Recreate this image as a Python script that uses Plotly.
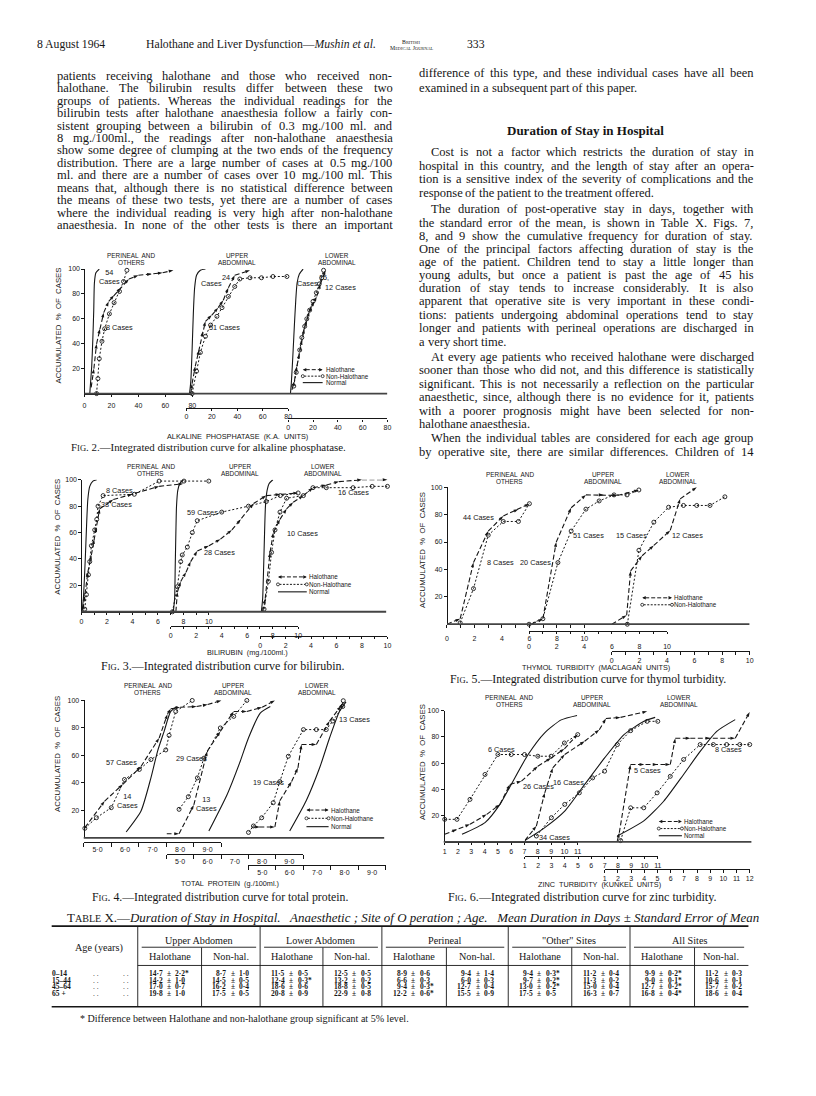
import plotly.graph_objects as go

# ---------------------------------------------------------------------------
# values: accumulated % of cases against the test value
# ---------------------------------------------------------------------------

# Fig. 2  alkaline phosphatase (K.A. units)
alk_per_norm_x = [4, 4.2, 5.4, 6.2, 6.9, 7.4, 8.5, 11]
alk_per_norm_y = [0, 3.5, 22, 43, 67, 89, 97, 100]
alk_per_hal_x = [5, 7, 9, 11.5, 14.3, 18, 22, 27, 33, 40, 50, 58, 66]
alk_per_hal_y = [5, 20, 40, 52, 65, 74, 79, 85, 92, 95, 96, 97, 99]
alk_per_non_x = [9, 10, 11, 13, 15, 18.5, 22, 26, 29, 31.5]
alk_per_non_y = [0, 12, 28, 42, 52, 64, 73, 82, 90, 99]
alk_up_norm_x = [2.5, 3.5, 4.5, 5.5, 6.5, 8, 11, 15]
alk_up_norm_y = [0, 10, 35, 65, 85, 95, 99, 100]
alk_up_hal_x = [3.5, 4.5, 7, 10, 13, 15, 20, 25, 29, 33, 38, 50]
alk_up_hal_y = [0, 8, 22, 35, 50, 58, 63, 69, 75, 85, 95, 99]
alk_up_non_x = [4.5, 8, 11, 15, 19, 24, 28, 33, 38, 42, 50, 59, 68, 79]
alk_up_non_y = [0, 18, 33, 46, 55, 62, 69, 78, 86, 92, 93, 93, 94, 94]
alk_lo_norm_x = [1.8, 2.5, 4, 5, 6.1, 7.2, 9, 12]
alk_lo_norm_y = [0, 8, 35, 55, 75, 89, 96, 100]
alk_lo_hal_x = [3, 5, 7, 9, 11, 13, 15, 17, 19, 21, 23, 26, 30]
alk_lo_hal_y = [3, 10, 22, 32, 43, 52, 59, 66, 70, 74, 78, 88, 99]
alk_lo_non_x = [4.5, 6.5, 9.3, 11, 13.3, 15, 17.3, 20, 22.7, 25, 27, 28.5]
alk_lo_non_y = [6, 17, 35, 45, 54, 60, 67, 74, 81, 88, 93, 99]

# Fig. 3  bilirubin (mg./100 ml.)
bil_per_norm_x = [0.05, 0.15, 0.3, 0.4, 0.5, 0.65, 0.9, 1.2]
bil_per_norm_y = [0, 10, 40, 65, 85, 95, 99, 100]
bil_per_hal_x = [0.13, 0.26, 0.5, 0.78, 1.0, 1.17, 1.43, 2.5, 4.0, 6.1, 8.0]
bil_per_hal_y = [2, 12, 30, 43, 55, 64, 78, 85, 89, 95, 97]
bil_per_non_x = [0.26, 0.39, 0.55, 0.65, 0.78, 1.04, 1.2, 1.3, 1.7, 4.15, 6.1, 8.05, 10]
bil_per_non_y = [2, 13, 28, 38, 50, 62, 70, 80, 88, 89, 99, 99, 99]
bil_up_norm_x = [0.2, 0.3, 0.35, 0.4, 0.45, 0.55, 0.7, 1.0]
bil_up_norm_y = [0, 10, 35, 60, 80, 92, 97, 100]
bil_up_hal_x = [0.4, 0.52, 0.78, 1.2, 1.56, 2.08, 3.0, 3.9, 4.8, 5.5, 6.5, 7.5, 8.6, 10]
bil_up_hal_y = [0, 15, 23, 30, 38, 46, 50, 55, 62, 70, 82, 88, 89, 90]
bil_up_non_x = [0.13, 0.52, 0.78, 0.9, 1.3, 1.69, 2.08, 4.0, 6.1, 7.5, 8.6, 10]
bil_up_non_y = [0, 19, 38, 43, 49, 60, 69, 75.5, 80, 83.5, 88, 90]
bil_lo_norm_x = [0.1, 0.2, 0.28, 0.35, 0.42, 0.55, 0.7, 1.0]
bil_lo_norm_y = [0, 10, 35, 60, 80, 92, 97, 100]
bil_lo_hal_x = [0.2, 0.4, 0.78, 1.04, 1.56, 2.08, 2.6, 3.4, 4.15, 5.2, 6.2, 8.0, 10]
bil_lo_hal_y = [0, 10, 45, 60, 70, 78, 83, 88, 94, 96, 98.6, 100, 100]
bil_lo_non_x = [0.31, 0.65, 0.9, 1.17, 1.56, 2.08, 3.4, 4.15, 5.2, 7.3, 8.8, 10]
bil_lo_non_y = [2, 23, 45, 62, 75.5, 86, 88, 94, 94, 94, 95, 95]

# Fig. 4  total protein (g./100 ml.)
tp_per_norm_x = [6.04, 6.58, 6.94, 7.18, 7.42, 7.66, 7.9]
tp_per_norm_y = [4.3, 19.6, 43.7, 63, 77.5, 92, 95.6]
tp_per_hal_x = [4.54, 5.26, 5.92, 6.58, 7.24, 7.54, 7.66, 8.0, 8.6, 9.0, 9.5]
tp_per_hal_y = [7.5, 26.8, 39, 52, 72.7, 90, 94, 95, 95.6, 97, 100]
tp_per_non_x = [4.54, 4.96, 5.5, 5.98, 6.52, 6.94, 7.48, 7.6, 7.84, 8.44]
tp_per_non_y = [7, 14.7, 22, 42.5, 49.8, 57, 64, 74.6, 92, 100]
tp_up_norm_x = [6.05, 6.72, 7.2, 7.5, 7.93, 8.3]
tp_up_norm_y = [5, 31.6, 55.8, 72.7, 90.8, 95.6]
tp_up_hal_x = [4.5, 4.96, 5.5, 5.99, 6.47, 6.96, 7.44, 8.0, 8.47]
tp_up_hal_y = [3, 3, 24, 63, 77.5, 92, 92, 95, 100]
tp_up_non_x = [4.96, 5.3, 5.63, 5.87, 6.47, 6.96, 7.44]
tp_up_non_y = [20.8, 30, 43.7, 58, 80, 88.4, 100]
tp_lo_norm_x = [6.0, 6.6, 7.09, 7.45, 7.81, 8.05]
tp_lo_norm_y = [5, 27, 51, 72.7, 92, 99]
tp_lo_hal_x = [4.62, 4.92, 5.46, 5.64, 6.07, 6.3, 6.43, 6.97, 7.45, 7.87, 7.93]
tp_lo_hal_y = [8, 8, 8, 27, 41, 51, 68, 68, 85, 96, 98]
tp_lo_non_x = [4.5, 4.68, 4.98, 5.4, 5.64, 5.95, 6.5, 6.97, 7.33, 7.57, 7.93, 7.95]
tp_lo_non_y = [4, 8.7, 14.7, 25.6, 41, 59.4, 78.8, 78.8, 78.8, 85, 95.6, 99.8]

# Fig. 5  thymol turbidity (Maclagan units)
thy_per_hal_x = [0, 0.96, 1.93, 3.0, 4.1, 5.2, 6.0]
thy_per_hal_y = [0, 4, 45, 68, 79, 84, 88]
thy_per_non_x = [0.96, 1.93, 3.0, 4.1, 5.2, 6.0]
thy_per_non_y = [1, 26, 65, 75, 75, 88]
thy_up_hal_x = [0.17, 1.0, 1.97, 3.05, 4.12, 5.4, 6.4, 7.96]
thy_up_hal_y = [0, 4, 60, 85, 94.4, 94.4, 94, 98]
thy_up_non_x = [0, 1.0, 2.09, 3.05, 4.12, 5.08, 6.16, 7.1, 7.96]
thy_up_non_y = [0, 4, 45, 68, 84, 90, 94.4, 94.4, 98]
thy_lo_hal_x = [0, 1.08, 1.37, 2.2, 3.05, 4.24, 4.96, 6.16]
thy_lo_hal_y = [0, 6.5, 39, 50, 57.5, 68.5, 91.5, 100]
thy_lo_non_x = [1.13, 1.97, 3.05, 4.12, 5.2, 6.16, 7.12, 8.2]
thy_lo_non_y = [0, 54, 74.5, 85.4, 86.7, 86.7, 86.7, 93]

# Fig. 6  zinc turbidity (Kunkel units)
zn_per_norm_x = [2.3, 4.03, 5.15, 6.0, 7.27, 8.5, 9.76, 10.95]
zn_per_norm_y = [5.8, 14.7, 28.6, 43.8, 66.6, 83, 93, 96.4]
zn_per_hal_x = [1, 1.92, 2.9, 4.16, 5.15, 5.9, 6.77, 8.0, 9.0, 10.0, 11.0]
zn_per_hal_y = [5.8, 9.6, 13.4, 21, 28.6, 43.8, 46.3, 57.7, 64, 71, 82]
zn_per_non_x = [1, 1.92, 2.9, 4.03, 5.0, 6.0, 7.0, 8.0, 9.0, 10.0, 11.0]
zn_per_non_y = [17.2, 17.2, 32.4, 51.4, 66.6, 66.6, 66.6, 65.3, 65.3, 75.4, 81.8]
zn_up_norm_x = [1.0, 2.5, 4.0, 5.5, 7.0, 8.46, 9.96, 10.8]
zn_up_norm_y = [1, 10.9, 23.5, 43.8, 64, 81.8, 91.9, 94.9]
zn_up_hal_x = [1.0, 1.87, 2.5, 3.1, 4.0, 5.5, 6.6, 7.1, 8.2, 10.2]
zn_up_hal_y = [1, 12.1, 37.4, 56.4, 66.6, 76.7, 85.5, 94, 94.9, 99.5]
zn_up_non_x = [1.87, 3.0, 4.0, 5.1, 6.1, 7.0, 7.96, 8.96, 10.2, 11.0]
zn_up_non_y = [4.5, 18.5, 28.6, 37.4, 48.8, 53.9, 74.2, 84.8, 91.9, 91.9]
zn_lo_norm_x = [1.95, 3.96, 5.47, 6.98, 8.24, 9.5, 10.9]
zn_lo_norm_y = [4.5, 16, 31, 51.4, 69, 84.3, 93.2]
zn_lo_hal_x = [1.95, 2.1, 2.95, 4.0, 5.0, 5.97, 6.35, 7.5, 9.0, 10.9, 12.0]
zn_lo_hal_y = [0.8, 7, 59, 59, 59, 59, 79, 79, 79, 79, 99]
zn_lo_non_x = [2.2, 2.96, 3.96, 4.97, 5.97, 6.98, 8.24, 9.24, 10.25, 11.25, 12.0]
zn_lo_non_y = [1, 26, 26, 37.4, 50, 62.8, 74.2, 74.2, 74.2, 74.2, 74.2]

# Table X  mean duration of stay in days, standard error, * = significant
age_groups = ["0–14", "15–44", "45–64", "65 +"]
site_names = ["Upper Abdomen", "Lower Abdomen", "Perineal", "\"Other\" Sites", "All Sites"]
upper_hal_mean = [14.7, 14.2, 17.0, 19.8]
upper_hal_se = [2.2, 1.0, 0.7, 1.0]
upper_hal_sig = [1, 0, 0, 0]
upper_non_mean = [8.7, 14.5, 16.2, 17.5]
upper_non_se = [1.0, 0.5, 0.4, 0.5]
lower_hal_mean = [11.5, 12.4, 18.6, 20.8]
lower_hal_se = [0.5, 0.3, 0.6, 0.9]
lower_hal_sig = [0, 1, 0, 0]
lower_non_mean = [12.5, 13.2, 18.8, 22.9]
lower_non_se = [0.5, 0.2, 0.5, 0.8]
perineal_hal_mean = [8.9, 6.6, 9.4, 12.2]
perineal_hal_se = [0.6, 0.3, 0.3, 0.6]
perineal_hal_sig = [0, 0, 1, 1]
perineal_non_mean = [9.4, 6.0, 12.7, 15.5]
perineal_non_se = [1.4, 0.3, 0.4, 0.9]
other_hal_mean = [9.4, 9.7, 13.0, 17.5]
other_hal_se = [0.3, 0.2, 0.2, 0.5]
other_hal_sig = [1, 1, 1, 0]
other_non_mean = [11.2, 11.3, 15.0, 16.3]
other_non_se = [0.4, 0.2, 0.4, 0.7]
all_hal_mean = [9.9, 9.0, 12.7, 16.8]
all_hal_se = [0.2, 0.1, 0.2, 0.4]
all_hal_sig = [1, 1, 1, 1]
all_non_mean = [11.2, 10.6, 15.7, 18.6]
all_non_se = [0.3, 0.1, 0.2, 0.4]

# ---------------------------------------------------------------------------
# page text
# ---------------------------------------------------------------------------
LEFT_TEXT = [
    "patients receiving halothane and those who received non-",
    "halothane.  The bilirubin results differ between these two",
    "groups of patients.  Whereas the individual readings for the",
    "bilirubin tests after halothane anaesthesia follow a fairly con-",
    "sistent grouping between a bilirubin of 0.3 mg./100 ml. and",
    "8 mg./100ml., the readings after non-halothane anaesthesia",
    "show some degree of clumping at the two ends of the frequency",
    "distribution.  There are a large number of cases at 0.5 mg./100",
    "ml. and there are a number of cases over 10 mg./100 ml.  This",
    "means that, although there is no statistical difference between",
    "the means of these two tests, yet there are a number of cases",
    "where the individual reading is very high after non-halothane",
    "anaesthesia.  In none of the other tests is there an important",
]
# (text, y, indented, justified)
RIGHT_TEXT = [
    ("difference of this type, and these individual cases have all been", 69, 0, 1),
    ("examined in a subsequent part of this paper.", 84, 0, 0),
    ("Cost is not a factor which restricts the duration of stay in", 149, 1, 1),
    ("hospital in this country, and the length of stay after an opera-", 162.5, 0, 1),
    ("tion is a sensitive index of the severity of complications and the", 176, 0, 1),
    ("response of the patient to the treatment offered.", 189.5, 0, 0),
    ("The duration of post-operative stay in days, together with", 206, 1, 1),
    ("the standard error of the mean, is shown in Table X.  Figs. 7,", 219.5, 0, 1),
    ("8, and 9 show the cumulative frequency for duration of stay.", 232.5, 0, 1),
    ("One of the principal factors affecting duration of stay is the", 245.5, 0, 1),
    ("age of the patient.  Children tend to stay a little longer than", 258.5, 0, 1),
    ("young adults, but once a patient is past the age of 45 his", 272, 0, 1),
    ("duration of stay tends to increase considerably.  It is also", 285, 0, 1),
    ("apparent that operative site is very important in these condi-", 298.5, 0, 1),
    ("tions: patients undergoing abdominal operations tend to stay", 312, 0, 1),
    ("longer and patients with perineal operations are discharged in", 325, 0, 1),
    ("a very short time.", 339, 0, 0),
    ("At every age patients who received halothane were discharged", 354, 1, 1),
    ("sooner than those who did not, and this difference is statistically", 367.5, 0, 1),
    ("significant.  This is not necessarily a reflection on the particular", 381, 0, 1),
    ("anaesthetic, since, although there is no evidence for it, patients", 394.5, 0, 1),
    ("with a poorer prognosis might have been selected for non-", 408, 0, 1),
    ("halothane anaesthesia.", 422, 0, 0),
    ("When the individual tables are considered for each age group", 436, 1, 1),
    ("by operative site, there are similar differences.  Children of 14", 450, 0, 1),
]

# the page sits 8 px in from the window's corner (browser body margin)
OFF = 8
FW, FH = 800, 1080
INK = "#161616"
SERIF = "Liberation Serif"
SANS = "Liberation Sans"

# Times / Liberation Serif advance widths (1/1000 em)
TIMES = {" ": 250, "!": 333, "'": 333, "(": 333, ")": 333, "*": 500, ",": 250, "-": 333,
         ".": 250, "/": 278, ":": 278, ";": 278, "%": 833, "—": 1000, "–": 500, "·": 250,
         "±": 564, "\"": 408}
TIMES.update({c: 500 for c in "0123456789"})
TIMES.update(dict(zip("ABCDEFGHIJKLMNOPQRSTUVWXYZ",
                      [722, 667, 667, 722, 611, 556, 722, 722, 333, 389, 722, 611, 889,
                       722, 722, 556, 722, 667, 556, 611, 722, 722, 944, 722, 722, 611])))
TIMES.update(dict(zip("abcdefghijklmnopqrstuvwxyz",
                      [444, 500, 444, 500, 444, 333, 500, 500, 278, 278, 500, 278, 778,
                       500, 500, 500, 500, 333, 389, 278, 500, 500, 722, 500, 500, 444])))


def tw(s):
    return sum(TIMES.get(c, 500) for c in s) / 1000.0


def X(p):
    return (p - OFF) / FW


def Y(p):
    return 1 - (p - OFF) / FH


fig = go.Figure()
annotations, shapes, axes = [], [], {}


def note(x, y, text, size, family=SERIF, xanchor="left", xref="paper", yref="paper", angle=0):
    annotations.append(dict(
        x=X(x) if xref == "paper" else x, y=Y(y) if yref == "paper" else y,
        xref=xref, yref=yref, text=text, showarrow=False, xanchor=xanchor, yanchor="middle",
        textangle=angle, borderpad=0, borderwidth=0,
        font=dict(family=family, size=size, color=INK)))


def rule(x0, y0, x1, y1, width=1.0, dash="solid", color=INK):
    shapes.append(dict(type="line", xref="paper", yref="paper", x0=X(x0), y0=Y(y0),
                       x1=X(x1), y1=Y(y1), line=dict(color=color, width=width, dash=dash)))


def dot(cx, cy, r=1.5):
    shapes.append(dict(type="circle", xref="paper", yref="paper", x0=X(cx - r), x1=X(cx + r),
                       y0=Y(cy + r), y1=Y(cy - r), line=dict(color=INK, width=0.8),
                       fillcolor="white"))


# ---------------------------------------------------------------- body text
def body(lines, x0, width):
    size = 12.5
    for text, y, ind, just in lines:
        if just:
            words = text.split()
            u = sum(tw(w) for w in words)
            size = min(size, (width - 12 * ind) / (u + 0.17 * (len(words) - 1)))
    for text, y, ind, just in lines:
        words = text.split()
        ws = [tw(w) * size for w in words]
        left = x0 + 12 * ind
        gap = (x0 + width - left - sum(ws)) / (len(words) - 1) if just and len(words) > 1 else 0.25 * size
        x = left
        for w, wd in zip(words, ws):
            note(x, y, w, size)
            x += wd + gap


body([(t, 72 + 12.5 * i, 0, 1) for i, t in enumerate(LEFT_TEXT)], 55, 338)
body(RIGHT_TEXT, 420, 337)
note(588, 127, "<b>Duration of Stay in Hospital</b>", 13, xanchor="center")

# running head
note(35, 41, "8 August 1964", 11.7)
note(145, 41, "Halothane and Liver Dysfunction—<i>Mushin et al.</i>", 11.7)
note(468, 41, "333", 11.7)
note(413, 38, "B<span style='font-size:4.4px'>RITISH</span>", 5.8, xanchor="center")
note(413, 44.5, "M<span style='font-size:4.4px'>EDICAL</span> J<span style='font-size:4.4px'>OURNAL</span>",
     5.8, xanchor="center")

# ---------------------------------------------------------------- figures
STYLE = {
    "hal": dict(mode="lines+markers", line=dict(color=INK, width=1.1, dash="5px,2.5px"),
                marker=dict(symbol="arrow", size=5, angleref="previous", color=INK)),
    "non": dict(mode="lines+markers", line=dict(color=INK, width=1.0, dash="2px,2px"),
                marker=dict(symbol="circle-open", size=4, color=INK, line=dict(width=0.9, color=INK))),
    "norm": dict(mode="lines", line=dict(color=INK, width=1.1, shape="spline", smoothing=0.6)),
}
LEG_TEXT = {"hal": "Halothane", "non": "Non-Halothane", "norm": "Normal"}
HEADS = [("PERINEAL  AND", "OTHERS"), ("UPPER", "ABDOMINAL"), ("LOWER", "ABDOMINAL")]
half = [4.5, 5.5, 6.5, 7.5, 8.5, 9.5]


def cap(num, rest):
    return "F<span style='font-size:8.5px'>IG</span>. %d.—%s" % (num, rest)


FIGS = [
    dict(sites=[dict(norm=(alk_per_norm_x, alk_per_norm_y), hal=(alk_per_hal_x, alk_per_hal_y), non=(alk_per_non_x, alk_per_non_y)),
                dict(norm=(alk_up_norm_x, alk_up_norm_y), hal=(alk_up_hal_x, alk_up_hal_y), non=(alk_up_non_x, alk_up_non_y)),
                dict(norm=(alk_lo_norm_x, alk_lo_norm_y), hal=(alk_lo_hal_x, alk_lo_hal_y), non=(alk_lo_non_x, alk_lo_non_y))],
         yx=83, y0=391, y100=266,
         xaxes=[dict(d=(83, 191.7), r=(0, 80), line=391, lab=401, vals=[0, 20, 40, 60, 80]),
                dict(d=(185.7, 288.3), r=(0, 80), line=405, lab=413, vals=[0, 20, 40, 60, 80]),
                dict(d=(288.3, 388.3), r=(0, 80), line=416, lab=423, vals=[0, 20, 40, 60, 80])],
         base=(83, 388), heads=[130, 237, 337], head_y=(252.5, 259.5), ylab=(57, 323),
         xlab=("ALKALINE  PHOSPHATASE  (K.A.  UNITS)", 237, 434),
         cap=(cap(2, "Integrated distribution curve for alkaline phosphatase."), 208.5, 444.3, 267),
         legend=dict(rows=[367, 373.5, 380], x=(303, 323), tx=326),
         labels=[(0, 11, 94, "54<br>Cases", "left"), (0, 16, 53, "8 Cases", "left"),
                 (1, 28, 93.5, "24", "left"), (1, 28, 88, "Cases", "right"),
                 (1, 17.7, 53, "51 Cases", "left"), (2, 24.8, 93, "15,", "left"),
                 (2, 24, 88, "Cases", "right"), (2, 30, 85, "12 Cases", "left")]),
    dict(sites=[dict(norm=(bil_per_norm_x, bil_per_norm_y), hal=(bil_per_hal_x, bil_per_hal_y), non=(bil_per_non_x, bil_per_non_y)),
                dict(norm=(bil_up_norm_x, bil_up_norm_y), hal=(bil_up_hal_x, bil_up_hal_y), non=(bil_up_non_x, bil_up_non_y)),
                dict(norm=(bil_lo_norm_x, bil_lo_norm_y), hal=(bil_lo_hal_x, bil_lo_hal_y), non=(bil_lo_non_x, bil_lo_non_y))],
         yx=80, y0=610, y100=477.5,
         xaxes=[dict(d=(80, 208.3), r=(0, 10), line=610, lab=619, vals=[0, 2, 4, 6, 8, 10], minor=1),
                dict(d=(170, 298.3), r=(0, 10), line=624, lab=630.5, vals=[0, 2, 4, 6, 8, 10], minor=1),
                dict(d=(260, 388.3), r=(0, 10), line=634, lab=641, vals=[0, 2, 4, 6, 8, 10], minor=1)],
         base=(80, 387), heads=[150, 240, 323], head_y=(464, 471), ylab=(55, 535),
         xlab=("BILIRUBIN  (mg./100ml.)", 247, 651),
         cap=(cap(3, "Integrated distribution curve for bilirubin."), 222.5, 664, 238),
         legend=dict(rows=[575, 582.5, 590], x=(278, 307), tx=309),
         labels=[(0, 1.95, 92, "8 Cases", "left"), (0, 1.55, 81, "38 Cases", "left"),
                 (1, 1.3, 75.5, "59 Cases", "left"), (1, 2.6, 45, "28 Cases", "left"),
                 (2, 2.1, 59, "10 Cases", "left"), (2, 6.1, 90, "16 Cases", "left")]),
    dict(sites=[dict(norm=(tp_per_norm_x, tp_per_norm_y), hal=(tp_per_hal_x, tp_per_hal_y), non=(tp_per_non_x, tp_per_non_y)),
                dict(norm=(tp_up_norm_x, tp_up_norm_y), hal=(tp_up_hal_x, tp_up_hal_y), non=(tp_up_non_x, tp_up_non_y)),
                dict(norm=(tp_lo_norm_x, tp_lo_norm_y), hal=(tp_lo_hal_x, tp_lo_hal_y), non=(tp_lo_non_x, tp_lo_non_y))],
         yx=82.3, y0=837, y100=699,
         xaxes=[dict(d=(82.3, 221), r=(4.5, 9.5), line=840.7, lab=847.3, vals=[5, 6, 7, 8, 9], half=True),
                dict(d=(165.7, 303.3), r=(4.5, 9.5), line=852.7, lab=859.3, vals=[5, 6, 7, 8, 9], half=True),
                dict(d=(248.3, 386.7), r=(4.5, 9.5), line=864, lab=871, vals=[5, 6, 7, 8, 9], half=True)],
         base=(82.3, 385), heads=[147, 233, 317], head_y=(684, 691.5), ylab=(56, 753),
         xlab=("TOTAL  PROTEIN  (g./100ml.)", 230, 882.7),
         cap=(cap(4, "Integrated distribution curve for total protein."), 220, 896, 250),
         legend=dict(rows=[809, 817.3, 825.7], x=(306.7, 329), tx=331),
         labels=[(0, 5.32, 54.6, "57 Cases", "left"), (0, 6.1, 26.8, "14<br>Cases", "center"),
                 (1, 4.84, 57.7, "29 Cases", "left"), (1, 5.95, 25, "13<br>Cases", "center"),
                 (2, 4.68, 40.6, "19 Cases", "left"), (2, 7.81, 86, "13 Cases", "left")]),
    dict(sites=[dict(hal=(thy_per_hal_x, thy_per_hal_y), non=(thy_per_non_x, thy_per_non_y)),
                dict(hal=(thy_up_hal_x, thy_up_hal_y), non=(thy_up_non_x, thy_up_non_y)),
                dict(hal=(thy_lo_hal_x, thy_lo_hal_y), non=(thy_lo_non_x, thy_lo_non_y))],
         yx=448.3, y0=622.5, y100=485,
         xaxes=[dict(d=(448.3, 586.7), r=(0, 10), line=622.5, lab=636, vals=[0, 2, 4, 6, 8, 10], minor=1),
                dict(d=(531, 670), r=(0, 10), line=629, lab=643.5, vals=[0, 2, 4, 6, 8, 10], minor=1),
                dict(d=(614.3, 753.3), r=(0, 10), line=649.5, lab=656.5, vals=[0, 2, 4, 6, 8, 10], minor=1)],
         base=(448.3, 753), heads=[511.7, 605.8, 680.8], head_y=(472.5, 479.5), ylab=(423, 548),
         xlab=("THYMOL  TURBIDITY  (MACLAGAN  UNITS)", 598, 666),
         cap=(cap(5, "Integrated distribution curve for thymol turbidity."), 590, 677.7, 270),
         legend=dict(rows=[596, 603], x=(645, 675), tx=677.3),
         labels=[(0, 1.2, 77.6, "44 Cases", "left"), (0, 2.9, 45.4, "8 Cases", "left"),
                 (1, 1.6, 45.4, "20 Cases", "right"), (1, 3.17, 64.8, "51 Cases", "left"),
                 (2, 2.57, 64.8, "15 Cases", "right"), (2, 4.36, 64.8, "12 Cases", "left")]),
    dict(sites=[dict(norm=(zn_per_norm_x, zn_per_norm_y), hal=(zn_per_hal_x, zn_per_hal_y), non=(zn_per_non_x, zn_per_non_y)),
                dict(norm=(zn_up_norm_x, zn_up_norm_y), hal=(zn_up_hal_x, zn_up_hal_y), non=(zn_up_non_x, zn_up_non_y)),
                dict(norm=(zn_lo_norm_x, zn_lo_norm_y), hal=(zn_lo_hal_x, zn_lo_hal_y), non=(zn_lo_non_x, zn_lo_non_y))],
         yx=445, y0=841, y100=709.3,
         xaxes=[dict(d=(446, 580), r=(1, 11), line=841, lab=850, vals=list(range(1, 12))),
                dict(d=(526.7, 660.7), r=(1, 11), line=855, lab=861.7, vals=list(range(1, 12))),
                dict(d=(607.3, 753.3), r=(1, 12), line=868.3, lab=875, vals=list(range(1, 13)))],
         base=(445, 755), heads=[510.8, 594, 681.7], head_y=(696.5, 703.5), ylab=(423, 761),
         xlab=("ZINC  TURBIDITY  (KUNKEL  UNITS)", 601.7, 884),
         cap=(cap(6, "Integrated distribution curve for zinc turbidity."), 585, 896.7, 263),
         legend=dict(rows=[820.5, 827.6, 834.8], x=(661.7, 685), tx=687),
         labels=[(0, 4.28, 70.4, "6 Cases", "left"), (0, 6.9, 42, "26 Cases", "left"),
                 (1, 3.1, 45, "16 Cases", "left"), (1, 2.1, 3.3, "34 Cases", "left"),
                 (2, 3.2, 54.4, "5 Cases", "left"), (2, 9.4, 70.4, "8 Cases", "left")]),
]

TICKFONT = dict(family=SANS, size=7, color=INK)

for k, spec in enumerate(FIGS):
    yname = "y" if k == 0 else "y%d" % (k + 1)
    axes["yaxis" if k == 0 else "yaxis%d" % (k + 1)] = dict(
        domain=[Y(spec["y0"]), Y(spec["y100"])], range=[0, 100], anchor="free",
        position=X(spec["yx"]), showline=True, linecolor=INK, linewidth=1.2,
        ticks="outside", ticklen=3, tickwidth=1, tickcolor=INK, tickmode="array",
        tickvals=[20, 40, 60, 80, 100], tickfont=TICKFONT, showgrid=False, zeroline=False)
    xnames = []
    for j, xa in enumerate(spec["xaxes"]):
        n = 3 * k + j + 1
        xnames.append("x" if n == 1 else "x%d" % n)
        tl = 0 if xa.get("half") else 2.5
        ax = dict(domain=[X(xa["d"][0]), X(xa["d"][1])], range=list(xa["r"]), anchor="free",
                  position=Y(xa["line"]), showline=True, linecolor=INK, linewidth=1.1,
                  ticks="" if xa.get("half") else "outside", ticklen=max(tl, 1), tickwidth=1,
                  tickcolor=INK, tickmode="array", tickvals=xa["vals"],
                  ticktext=[("%d·0" % v) if xa.get("half") else str(v) for v in xa["vals"]],
                  tickfont=TICKFONT, ticklabelstandoff=max(0, round(xa["lab"] - xa["line"] - tl - 6)),
                  showgrid=False, zeroline=False)
        if xa.get("half"):
            ax["minor"] = dict(tickmode="array", tickvals=half, ticks="outside", ticklen=4,
                               tickcolor=INK, tickwidth=1)
        elif xa.get("minor"):
            ax["minor"] = dict(tickmode="linear", tick0=0, dtick=1, ticks="outside", ticklen=2.5,
                               tickcolor=INK, tickwidth=1)
        axes["xaxis" if n == 1 else "xaxis%d" % n] = ax

    for j, site in enumerate(spec["sites"]):
        for kind in ("norm", "non", "hal"):
            if kind not in site:
                continue
            xs, ys = site[kind]
            fig.add_trace(go.Scatter(x=xs, y=ys, xaxis=xnames[j], yaxis=yname, showlegend=False,
                                     cliponaxis=False, hoverinfo="skip", **STYLE[kind]))
        note(spec["heads"][j], spec["head_y"][0], HEADS[j][0], 6.4, SANS, "center")
        note(spec["heads"][j], spec["head_y"][1], HEADS[j][1], 6.4, SANS, "center")

    for j, lx, ly, text, anchor in spec["labels"]:
        note(lx, ly, text, 7.3, SANS, anchor, xref=xnames[j], yref=yname)

    # heavy base line under the three panels
    rule(spec["base"][0], spec["y0"], spec["base"][1], spec["y0"], 1.8, color="#444")
    note(spec["ylab"][0], spec["ylab"][1], "ACCUMULATED  %  OF  CASES", 7.8, SANS, "center", angle=-90)
    note(spec["xlab"][1], spec["xlab"][2], spec["xlab"][0], 7.3, SANS, "center")
    ctext, cx, cy, cw = spec["cap"]
    plain = "FIG. 0.—" + ctext.split(".—", 1)[1]
    note(cx, cy, ctext, cw / tw(plain) * 1.04, SERIF, "center")

    # legend key
    lg = spec["legend"]
    x0, x1 = lg["x"]
    kinds = ["hal", "non", "norm"][:len(lg["rows"])]
    for ly, kind in zip(lg["rows"], kinds):
        if kind == "hal":
            rule(x0 + 3, ly, x1 - 3, ly, 1.0, "4px,2px")
            for tip, back in ((x0, 4), (x1, -4)):
                annotations.append(dict(x=X(tip), y=Y(ly), xref="paper", yref="paper", ax=back, ay=0,
                                        text="", showarrow=True, arrowhead=2, arrowsize=0.7,
                                        arrowwidth=1, arrowcolor=INK))
        elif kind == "non":
            rule(x0 + 1.5, ly, x1 - 1.5, ly, 1.0, "2px,1.5px")
            dot(x0, ly)
            dot(x1, ly)
        else:
            rule(x0, ly, x1, ly, 1.1)
        note(lg["tx"], ly, LEG_TEXT[kind], 6.3, SANS)

# ---------------------------------------------------------------- Table X
TABLE = [(upper_hal_mean, upper_hal_se, upper_hal_sig, upper_non_mean, upper_non_se),
         (lower_hal_mean, lower_hal_se, lower_hal_sig, lower_non_mean, lower_non_se),
         (perineal_hal_mean, perineal_hal_se, perineal_hal_sig, perineal_non_mean, perineal_non_se),
         (other_hal_mean, other_hal_se, other_hal_sig, other_non_mean, other_non_se),
         (all_hal_mean, all_hal_se, all_hal_sig, all_non_mean, all_non_se)]
GX = [136.7, 260, 382.7, 510, 632.7, 751.7]
SX = [201, 323.3, 447.7, 574, 697.7]
ROW_Y = [972.8, 979.6, 986.4, 993.2]
T_TOP, T_BOT, T_L, T_R = 925.5, 1006.5, 50, 752
CELL = 7.5


def num(v):
    return ("%.1f" % v).replace(".", "·")


title_plain = ("TABLE X.—Duration of Stay in Hospital.  Anaesthetic ; Site of O peration ; Age.  "
               "Mean Duration in Days ± Standard Error of Mean")
tsize = 678 / tw(title_plain) * 1.02
note(65, 916.7, "T<span style='font-size:%.1fpx'>ABLE</span> X.—<i>Duration of Stay in Hospital.\u00a0\u00a0 "
     "Anaesthetic ; Site of O peration ; Age.\u00a0\u00a0 Mean Duration in Days ± Standard Error of Mean</i>"
     % (tsize * 0.78), tsize)

rule(T_L, T_TOP, T_R, T_TOP, 1.6)
rule(T_L, T_BOT, T_R, T_BOT, 1.6)
rule(GX[0], 965, T_R, 965, 0.9)
for g in range(5):
    rule(GX[g], T_TOP, GX[g], T_BOT, 0.9)
    rule(SX[g], 947, SX[g], T_BOT, 0.9)
    rule(GX[g] + 4, 946.7, GX[g + 1] - 4, 946.7, 0.9)
    note((GX[g] + GX[g + 1]) / 2, 939.5, site_names[g], 10.2, SERIF, "center")
    note((GX[g] + SX[g]) / 2, 956, "Halothane", 10.2, SERIF, "center")
    note((SX[g] + GX[g + 1]) / 2, 956, "Non-hal.", 10.2, SERIF, "center")

note(98, 947.7, "Age (years)", 10.2, SERIF, "center")
for r, age in enumerate(age_groups):
    note(50.7, ROW_Y[r], "<b>%s</b>" % age, CELL)
    note(95, ROW_Y[r], ". .", CELL, SERIF, "center")
    note(125, ROW_Y[r], ". .", CELL, SERIF, "center")

for g, (hm, hs, hsig, nm, ns) in enumerate(TABLE):
    for s, (m, e, sig) in enumerate([(hm, hs, hsig), (nm, ns, [0, 0, 0, 0])]):
        left = [GX[g], SX[g]][s]
        for r in range(4):
            note(left + 25, ROW_Y[r], "<b>%s</b>" % num(m[r]), CELL, SERIF, "right")
            note(left + 31.5, ROW_Y[r], "<b>±</b>", CELL, SERIF, "center")
            note(left + 38, ROW_Y[r], "<b>%s%s</b>" % (num(e[r]), "*" if sig[r] else ""), CELL)

foot = "* Difference between Halothane and non-halothane group significant at 5% level."
note(78.3, 1018.3, foot, 323 / tw(foot) * 1.02)

fig.update_layout(
    width=FW, height=FH, autosize=False, margin=dict(l=0, r=0, t=0, b=0),
    paper_bgcolor="white", plot_bgcolor="rgba(0,0,0,0)", showlegend=False,
    annotations=annotations, shapes=shapes, **axes)

fig.write_html("out.html")
